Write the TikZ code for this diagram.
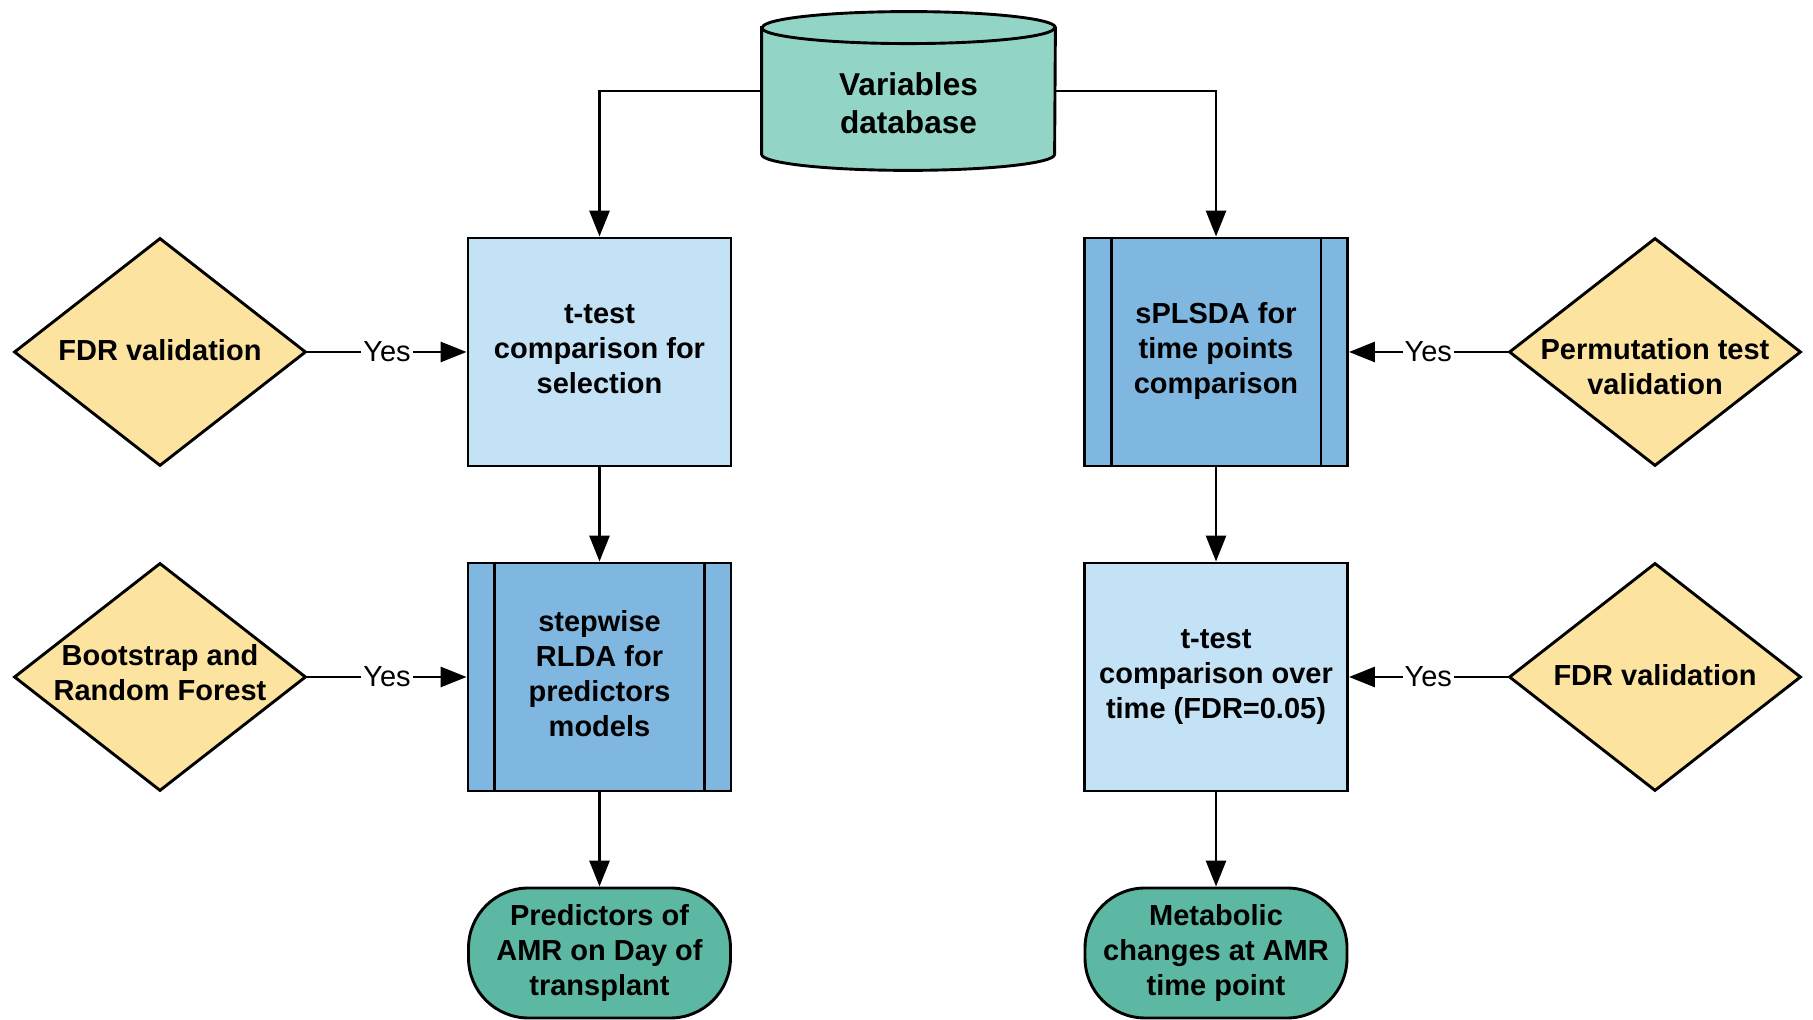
\documentclass[tikz,border=0pt]{standalone}
\usepackage{fontspec}
\setmainfont{Liberation Sans}
\usetikzlibrary{shapes.geometric,arrows.meta}
\definecolor{lightbox}{HTML}{C3E2F6}
\definecolor{darkbox}{HTML}{80B7E1}
\definecolor{dbcol}{HTML}{92D5C6}
\definecolor{termcol}{HTML}{5CB8A3}
\definecolor{diacol}{HTML}{FCE3A0}
\tikzset{
  x=0.5pt, y=0.5pt,
  ln/.style={line width=1.45pt},
  arr/.style={ln, -{Triangle[length=13pt,width=10pt]}},
  txt/.style={font=\bfseries\fontsize{14.5}{17.5}\selectfont, align=center, text=black},
  boxl/.style={draw, ln, fill=lightbox, minimum width=131.5pt, minimum height=114pt, inner sep=0pt},
  boxd/.style={draw, ln, fill=darkbox, minimum width=131.5pt, minimum height=114pt, inner sep=0pt},
  term/.style={draw, ln, fill=termcol, minimum width=131pt, minimum height=65pt, inner sep=0pt, rounded corners=30pt},
  dia/.style={diamond, draw, ln, fill=diacol, minimum width=146pt, minimum height=114pt, inner sep=0pt},
  yes/.style={fill=white, inner sep=1pt, font=\fontsize{14.5}{16}\selectfont},
}
\begin{document}
\begin{tikzpicture}
\useasboundingbox (0,0) rectangle (1813,1020);
% database
\node[minimum width=146.5pt, minimum height=79pt, inner sep=0pt] (db) at (908.5,929) {};
\draw[ln, fill=dbcol] ([yshift=-8pt]db.north west) -- ([yshift=8pt]db.south west)
  arc[start angle=180,end angle=360,x radius=73.25pt,y radius=8pt]
  -- ([yshift=-8pt]db.north east)
  arc[start angle=0,end angle=180,x radius=73.25pt,y radius=8pt] -- cycle;
\draw[ln] ([yshift=-8pt]db.north west) arc[start angle=180,end angle=360,x radius=73.25pt,y radius=8pt];
\node[txt, font=\bfseries\fontsize{15.8}{19}\selectfont] (dbt) at (908.5,917) {Variables\\database};

% left column
\node[boxl] (b1) at (599.5,668) {};
\node[txt] (b1t) at (599.5,671) {t-test\\comparison for\\selection};
\node[boxd] (b2) at (599.5,343) {};
\node[term] (t1) at (599.5,67) {};
% right column
\node[boxd] (b3) at (1216,668) {};
\node[boxl] (b4) at (1216,343) {};
\node[txt] (b4t) at (1216,343) {t-test\\comparison over\\time (FDR=0.05)};
\node[term] (t2) at (1216,67) {};

% bars on dark boxes
\foreach \b in {b2,b3}{
  \draw[ln] ([xshift=14pt]\b.north west) -- ([xshift=14pt]\b.south west);
  \draw[ln] ([xshift=-14pt]\b.north east) -- ([xshift=-14pt]\b.south east);
}
\node[txt] (b2t) at (599.5,346) {stepwise\\RLDA for\\predictors\\models};
\node[txt] (b3t) at (1216,669) {sPLSDA for\\time points\\comparison};
\node[txt] (t1t) at (599.5,67) {Predictors of\\AMR on Day of\\transplant};
\node[txt] (t2t) at (1216,67) {Metabolic\\changes at AMR\\time point};

% diamonds
\node[dia] (d1) at (160,668) {};
\node[txt] (d1t) at (160,670) {FDR validation};
\node[dia] (d2) at (160,343) {};
\node[txt] (d2t) at (160,347) {Bootstrap and\\Random Forest};
\node[dia] (d3) at (1655,668) {};
\node[txt] (d3t) at (1655,653) {Permutation test\\validation};
\node[dia] (d4) at (1655,343) {};
\node[txt] (d4t) at (1655,345) {FDR validation};

% connectors
\draw[arr] (db.west) -| (b1.north);
\draw[arr] (db.east) -| (b3.north);
\draw[arr] (b1.south) -- (b2.north);
\draw[arr] (b2.south) -- (t1.north);
\draw[arr] (b3.south) -- (b4.north);
\draw[arr] (b4.south) -- (t2.north);
\draw[arr] (d1.east) -- node[yes] {Yes} (b1.west);
\draw[arr] (d2.east) -- node[yes] {Yes} (b2.west);
\draw[arr] (d3.west) -- node[yes] {Yes} (b3.east);
\draw[arr] (d4.west) -- node[yes] {Yes} (b4.east);
\end{tikzpicture}
\end{document}
